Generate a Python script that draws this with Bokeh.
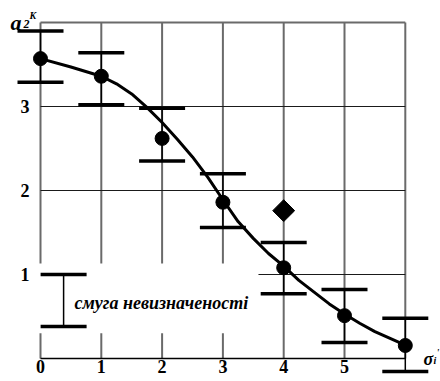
from math import pi
from bokeh.plotting import figure
from bokeh.models import Range1d, FixedTicker, Label
from bokeh.embed import file_html
from bokeh.resources import INLINE

# ---- data ----
sigma = [0, 1, 2, 3, 4, 5, 6]
a2k = [3.57, 3.36, 2.62, 1.86, 1.08, 0.51, 0.155]
a2k_upper = [3.90, 3.64, 2.98, 2.20, 1.38, 0.82, 0.48]
a2k_lower = [3.29, 3.02, 2.35, 1.56, 0.77, 0.19, -0.155]

outlier_x = [4]
outlier_y = [1.76]

curve_x = [0, 0.5, 1.0, 1.25, 1.5, 1.75, 2.0, 2.25, 2.5, 2.75, 3.0, 3.25,
           3.5, 3.75, 4.0, 4.25, 4.5, 4.75, 5.0, 5.25, 5.5, 5.75, 6.0]
curve_y = [3.57, 3.47, 3.36, 3.27, 3.15, 2.99, 2.81, 2.61, 2.40, 2.16, 1.89, 1.63,
           1.43, 1.25, 1.10, 0.93, 0.79, 0.65, 0.53, 0.42, 0.32, 0.24, 0.16]

band_x = [0.38]
band_low = [0.38]
band_high = [1.0]
band_text = "смуга невизначеності"

x_tick_labels = [0, 1, 2, 3, 4, 5]
y_tick_labels = [1, 2, 3]
grid_x = [0, 1, 2, 3, 4, 5, 6]
grid_y = [1, 2, 3]
X_MAX = 6
Y_MAX = 4

FONT = "Liberation Serif"

W, H = 440, 381
X0, XS = 40, 60.8      # canvas px of x=0, px per unit
Y0, YS = 358, 84.0     # canvas px of y=0, px per unit

p = figure(width=W, height=H, output_backend="svg", toolbar_location=None,
           x_range=Range1d(-X0 / XS, (W - X0) / XS),
           y_range=Range1d(-(H - Y0) / YS, Y0 / YS),
           min_border_left=0, min_border_right=0, min_border_top=0, min_border_bottom=0)
p.outline_line_color = None
p.xgrid.visible = False
p.ygrid.visible = False
p.background_fill_color = "white"
p.border_fill_color = "white"

# grid / frame lines
p.segment(x0=grid_x, y0=0, x1=grid_x, y1=Y_MAX, line_color="#6a6a6a", line_width=2)
p.segment(x0=0, y0=grid_y, x1=X_MAX, y1=grid_y, line_color="#1a1a1a", line_width=1.2)
p.segment(x0=[0], y0=[Y_MAX], x1=[X_MAX], y1=[Y_MAX], line_color="#6a6a6a", line_width=2)

# legend background (white box that interrupts the grid)
p.quad(left=[-0.04], right=[3.585], bottom=[0.30], top=[1.13],
       fill_color="white", line_color=None)

# legend sample bar
p.segment(x0=band_x, y0=band_low, x1=band_x, y1=band_high, line_color="black", line_width=1.5)
p.scatter(band_x, band_low, marker="dash", size=46, line_color="black", line_width=3.5)
p.scatter(band_x, band_high, marker="dash", size=46, line_color="black", line_width=3.5)
p.add_layout(Label(x=0.56, y=0.655, text=band_text, text_font=FONT, text_font_size="18px",
                   text_font_style="bold italic", text_baseline="alphabetic", text_color="black"))

# error bars
p.segment(x0=sigma, y0=a2k_lower, x1=sigma, y1=a2k_upper, line_color="black", line_width=1.5)
p.scatter(sigma, a2k_upper, marker="dash", size=46, line_color="black", line_width=3.5)
p.scatter(sigma, a2k_lower, marker="dash", size=46, line_color="black", line_width=3.5)

# fitted curve
p.line(curve_x, curve_y, line_color="black", line_width=3, line_join="round")

# points
p.scatter(sigma, a2k, size=14, marker="circle", fill_color="black", line_color="black")
p.scatter(outlier_x, outlier_y, marker="square", angle=pi / 4, size=15.5,
          fill_color="black", line_color="black")

# axes
xa = p.xaxis[0]
xa.fixed_location = 0
xa.ticker = FixedTicker(ticks=x_tick_labels)
xa.bounds = (0, X_MAX)
xa.axis_line_color = "black"
xa.axis_line_width = 1.5
xa.major_tick_line_color = None
xa.minor_tick_line_color = None
xa.major_tick_out = 0
xa.major_tick_in = 0
xa.major_label_standoff = 1
xa.major_label_text_font = FONT
xa.major_label_text_font_style = "bold"
xa.major_label_text_font_size = "18px"
xa.major_label_text_color = "black"

ya = p.yaxis[0]
ya.fixed_location = 0
ya.ticker = FixedTicker(ticks=y_tick_labels)
ya.axis_line_color = None
ya.major_tick_line_color = None
ya.minor_tick_line_color = None
ya.major_tick_out = 0
ya.major_tick_in = 0
ya.major_label_standoff = 11
ya.major_label_text_font = FONT
ya.major_label_text_font_style = "bold"
ya.major_label_text_font_size = "18px"
ya.major_label_text_color = "black"

# axis titles
def lab(x, y, t, size):
    p.add_layout(Label(x=x, y=y, text=t, text_font=FONT, text_font_size=size,
                       text_font_style="bold italic", text_baseline="alphabetic",
                       text_color="black"))

lab(-0.493, 4.0, "a", "22px")
lab(-0.28, 3.985, "2", "12px")
lab(-0.181, 4.083, "K", "10px")
lab(6.30, 0.0, "σ", "18px")
lab(6.464, -0.024, "i", "10px")
lab(6.513, 0.07, "'", "10px")

open("out.html", "w").write(file_html(p, INLINE))
